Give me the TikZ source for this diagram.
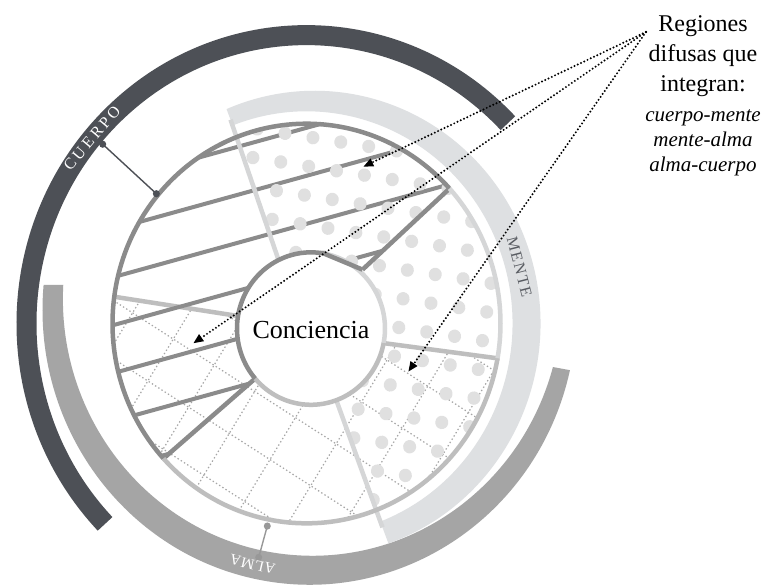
\documentclass[tikz,border=0pt]{standalone}
\usepackage{fontspec}
\setmainfont{Liberation Serif}
\usetikzlibrary{arrows.meta,calc}

\definecolor{cuerpoband}{HTML}{4D5056}
\definecolor{almaband}{HTML}{A5A5A5}
\definecolor{menteband}{HTML}{DEE0E2}
\definecolor{cuerpogray}{HTML}{8B8B8B}
\definecolor{almagray}{HTML}{BEBEBE}
\definecolor{mentegray}{HTML}{D5D6D7}
\definecolor{dotgray}{HTML}{E0E0E0}
\definecolor{gridgray}{HTML}{A6A6A6}
\definecolor{almatick}{HTML}{989898}
\definecolor{mentetext}{HTML}{595C62}

\tikzset{
  hatchline/.style={draw=cuerpogray, line width=4pt},
  gridline/.style={draw=gridgray, line width=1.2pt, dash pattern=on 1.4pt off 2.4pt},
  mentedot/.style={fill=dotgray},
  edgeline/.style={line width=4.5pt},
  ring/.style={line width=4.5pt},
  tick/.style={line width=1.4pt},
  bandlabel/.style={inner sep=0pt, font=\fontsize{16}{16}\selectfont},
  pointer/.style={draw=black, line width=2.2pt, line cap=round, dash pattern=on 0pt off 3.6pt, -{Triangle[length=10pt,width=8pt]}},
}

\begin{document}
\begin{tikzpicture}[x=1pt, y=1pt, yscale=1.03]

\useasboundingbox (-306.5,-253.9) rectangle (456.5,314.1);
\fill[white] (-306.5,-253.9) rectangle (456.5,314.1);

\coordinate (c0) at (4.5,-4.9);
\coordinate (almain) at (5.9,24);
\coordinate (almaout) at (3,13.4);
\coordinate (menteout) at (8,0);

\draw[cuerpoband, line width=20pt] (44:280) arc[start angle=44, end angle=224, radius=280];
\fill[almaband] ($(almain)+(176.9:249.5)$) arc[start angle=176.9, end angle=344.6, radius=249.5] -- ($(almaout)+(347.3:267)$) arc[start angle=347.3, end angle=174.8, radius=267] -- cycle;
\fill[menteband] (111:206) arc[start angle=111, end angle=-69, radius=206] -- ($(menteout)+(-70.9:226)$) arc[start angle=-70.9, end angle=112.9, radius=226] -- cycle;

\begin{scope}
\clip (172:194) arc[start angle=172, end angle=350, radius=194] -- ($(c0)+(349:74)$) arc[start angle=349, end angle=170.5, radius=74] -- cycle;
\begin{scope}[shift={(80.5,-35.4)}, rotate=-32]
\foreach \k in {-10,...,10} {
  \draw[gridline] (-500,\k*48) -- (500,\k*48);
  \draw[gridline] (\k*48,-500) -- (\k*48,500);
}
\end{scope}
\end{scope}

\draw[edgeline, draw=almagray] ($(c0)+(170.5:74)$) -- (172.3:194);
\draw[edgeline, draw=almagray] ($(c0)+(-11:74)$) -- (-10:196);

\begin{scope}
\clip (42.5:194) arc[start angle=42.5, end angle=222.5, radius=194] -- ($(c0)+(221:74)$) arc[start angle=221, end angle=80, radius=74] -- ($(c0)+(48:77)$) -- cycle;
\foreach \k in {0,...,6}
  \draw[hatchline] (-230,{190-46.6*\k-0.268*230}) -- (230,{190-46.6*\k+0.268*230});
\end{scope}

\begin{scope}
\clip (-68.5:194) arc[start angle=-68.5, end angle=111.5, radius=194] -- ($(c0)+(116:74)$) arc[start angle=116, end angle=-70, radius=74] -- cycle;
\begin{scope}[shift={(133,75.5)}, rotate=-8.7]
\foreach \i in {-10,...,4}
  \foreach \j in {-11,...,6}
    \fill[mentedot] (\i*28.2,\j*28.2) circle (6.5);
\end{scope}
\end{scope}

\draw[edgeline, draw=mentegray] ($(c0)+(116:74)$) -- (111:212);
\draw[edgeline, draw=mentegray] ($(c0)+(-70:74)$) -- (-69:212);
\draw[edgeline, draw=cuerpogray] ($(c0)+(48:77)$) -- (42.5:194);
\draw[edgeline, draw=cuerpogray] ($(c0)+(221:74)$) -- (222.5:194);

\draw[ring, draw=cuerpogray] (42.5:194) arc[start angle=42.5, end angle=222.5, radius=194];
\draw[ring, draw=almagray] (222.5:194) arc[start angle=222.5, end angle=350, radius=194];
\draw[ring, draw=mentegray] (350:194) arc[start angle=350, end angle=402.5, radius=194];

\draw[ring, draw=mentegray] ($(c0)+(-11:74)$) arc[start angle=-11, end angle=80, radius=74];
\draw[ring, draw=almagray] ($(c0)+(221:74)$) arc[start angle=221, end angle=349, radius=74];
\draw[ring, draw=cuerpogray] ($(c0)+(48:77)$) -- ($(c0)+(80:74)$) arc[start angle=80, end angle=221, radius=74];

\coordinate (cuerpofoot) at (140:196);
\coordinate (cuerpohead) at (139.5:268);
\draw[tick, draw=cuerpoband] (cuerpofoot) -- (cuerpohead);
\fill[cuerpoband] (cuerpofoot) circle (3.5) (cuerpohead) circle (3.5);

\coordinate (almafoot) at (-39.2,-196.6);
\coordinate (almahead) at (-47.8,-227);
\draw[tick, draw=almatick] (almafoot) -- (almahead);
\fill[almatick] (almafoot) circle (3.5) (almahead) circle (3.5);

\node(cuerpo) [bandlabel, text=white, rotate=50] at (140:280) {\addfontfeatures{LetterSpace=20}CUERPO};
\node(mente) [bandlabel, text=mentetext, rotate=-75.5] at (14.5:220) {\addfontfeatures{LetterSpace=10}MENTE};
\node(alma) [bandlabel, text=white, rotate=167, font=\fontsize{15}{15}\selectfont] at (-54,-234) {\addfontfeatures{LetterSpace=4}ALMA};

\node(conciencia) [font=\fontsize{26}{26}\selectfont, anchor=base] at (4.5,-14.1) {Conciencia};
\node(regiones) [align=center, anchor=north, inner sep=0pt, font=\fontsize{24}{30}\selectfont] at (396.5,299.5) {Regiones\\ difusas que\\ integran:\\ {\itshape\fontsize{21}{25}\selectfont cuerpo-mente}\\[-5pt] {\itshape\fontsize{21}{25}\selectfont mente-alma}\\[-5pt] {\itshape\fontsize{21}{25}\selectfont alma-cuerpo}};

\coordinate (src) at (339.5,283);
\coordinate (tipcm) at (56.8,152.2);
\coordinate (tipac) at (-113.2,-19.2);
\coordinate (tipma) at (101.8,-46.8);
\draw[pointer] (src) -- (tipcm);
\draw[pointer] (src) -- (tipac);
\draw[pointer] (src) -- (tipma);

\end{tikzpicture}
\end{document}
